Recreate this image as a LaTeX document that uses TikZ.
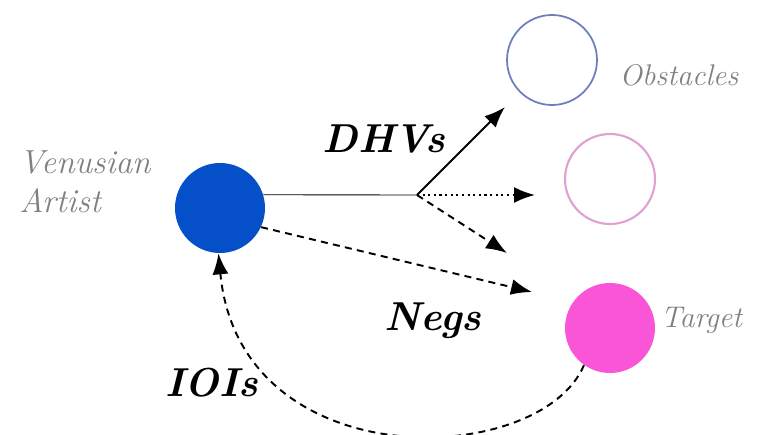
\documentclass[tikz,border=0pt]{standalone}
\usetikzlibrary{arrows.meta}
\definecolor{artistblue}{RGB}{5,80,200}
\definecolor{obsblue}{RGB}{110,125,190}
\definecolor{obspink}{RGB}{225,160,210}
\definecolor{targetpink}{RGB}{250,85,215}
\tikzset{
  agent/.style={circle,minimum size=1.8cm,inner sep=0pt},
  grayname/.style={font=\fontsize{17}{20}\selectfont\itshape,text=gray},
  flowlabel/.style={font=\fontsize{23}{27}\selectfont\bfseries\itshape},
  dashline/.style={dash pattern=on 4pt off 3pt,line width=1.1pt}
}
\begin{document}
\begin{tikzpicture}[>={Latex[length=4.2mm,width=3.2mm]}]
  \useasboundingbox (0,0) rectangle (15.3,8.68);
  % circles
  \node[agent,fill=artistblue] (artist) at (4.40,4.52) {};
  \node[agent,draw=obsblue,line width=1pt] (obsA) at (11.04,7.48) {};
  \node[agent,draw=obspink,line width=1.2pt] (obsB) at (12.20,5.10) {};
  \node[agent,fill=targetpink] (target) at (12.20,2.12) {};

  % names
  \node[grayname,align=left,font=\fontsize{19}{22}\selectfont\itshape] (artistname) at (1.70,5.04) {Venusian\\Artist};
  \node[grayname] (obsname) at (13.58,7.18) {Obstacles};
  \node[grayname] (targetname) at (14.03,2.28) {Target};

  % DHVs
  \coordinate (branch) at (8.34,4.78);
  \coordinate (tipA) at (10.10,6.54);
  \coordinate (tipB) at (10.70,4.78);
  \coordinate (tipC) at (10.14,3.62);
  \draw[line width=0.5pt] (artist.17) -- (branch);
  \draw[->,line width=1.2pt] (branch) -- (tipA);
  \draw[->,dotted,line width=1.2pt] (branch) -- (tipB);
  \draw[->,dashline] (branch) -- (tipC);
  \node[flowlabel] (dhvs) at (7.68,5.90) {DHVs};

  % Negs
  \coordinate (tipD) at (10.64,2.84);
  \draw[->,dashline] (artist.-25) -- (tipD);
  \node[flowlabel] (negs) at (8.66,2.26) {Negs};

  % IOIs
  \draw[->,dashline] (target.235) .. controls (10.8,-0.7) and (4.8,-0.9) .. (artist.-92);
  \node[flowlabel] (iois) at (4.24,1.02) {IOIs};
\end{tikzpicture}
\end{document}
